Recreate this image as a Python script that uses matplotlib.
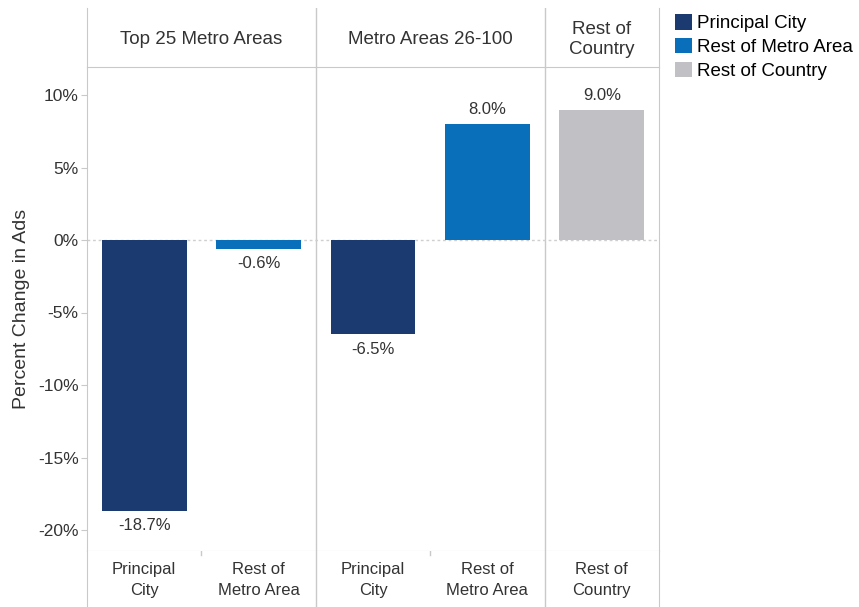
import matplotlib
matplotlib.use("Agg")
import matplotlib.pyplot as plt
from matplotlib.patches import Patch

plt.rcParams['font.family'] = ['Liberation Sans', 'DejaVu Sans']

panels = ["Top 25 Metro Areas", "Metro Areas 26-100", "Rest of\nCountry"]
panel_sizes = [2, 2, 1]
categories = ["Principal\nCity", "Rest of\nMetro Area", "Principal\nCity", "Rest of\nMetro Area", "Rest of\nCountry"]
series_idx = [0, 1, 0, 1, 2]
values = [-18.7, -0.6, -6.5, 8.0, 9.0]
series_names = ["Principal City", "Rest of Metro Area", "Rest of Country"]
colors = ["#1b3a70", "#0a6fba", "#c0c0c5"]
yticks = [10, 5, 0, -5, -10, -15, -20]

W, H = 859, 607
fig = plt.figure(figsize=(W / 100, H / 100), dpi=100)
L, R = 87, 659
top_hdr, hdr_bot, plot_bot = 8, 67, 551
fx = lambda px: px / W
fy = lambda py: 1 - py / H

ax = fig.add_axes([fx(L), fy(plot_bot), fx(R - L), fy(hdr_bot) - fy(plot_bot)])
axh = fig.add_axes([fx(L), fy(hdr_bot), fx(R - L), fy(top_hdr) - fy(hdr_bot)])
axb = fig.add_axes([fx(L), 0, fx(R - L), fy(plot_bot)])

n = len(categories)
x = list(range(n))
line_c = "#c9c9c9"
txt_c = "#333333"
for i, v in enumerate(values):
    ax.bar(x[i], v, width=0.74, color=colors[series_idx[i]], zorder=3)
    lbl = f"{v:.1f}%"
    if v >= 0:
        ax.text(x[i], v + 0.45, lbl, ha="center", va="bottom", fontsize=12, color=txt_c)
    else:
        ax.text(x[i], v - 0.5, lbl, ha="center", va="top", fontsize=12, color=txt_c)

ax.set_xlim(-0.5, n - 0.5)
ax.set_ylim(-(551 - 240) / 14.5, (240 - 67) / 14.5)
ax.axhline(0, color="#cfcfcf", lw=1, ls=(0, (2, 2)), zorder=1)
ax.set_yticks(yticks)
ax.set_yticklabels([f"{t}%" for t in yticks], fontsize=12.5, color=txt_c)
ax.tick_params(axis="y", length=4, color=line_c, pad=2)
ax.set_xticks([])
ax.set_ylabel("Percent Change in Ads", fontsize=14, color=txt_c, labelpad=6)

bounds = []
pos = 0
for s in panel_sizes:
    bounds.append((pos - 0.5, pos + s - 0.5))
    pos += s

for a in (ax, axh, axb):
    a.set_xlim(-0.5, n - 0.5)
    for sp in a.spines.values():
        sp.set_visible(False)
    a.spines["left"].set_visible(True)
    a.spines["left"].set_color(line_c)
    a.spines["right"].set_visible(True)
    a.spines["right"].set_color(line_c)
    for b in bounds[1:]:
        a.axvline(b[0], color=line_c, lw=1, zorder=0)
ax.spines["bottom"].set_visible(True)
ax.spines["bottom"].set_color(line_c)
axh.spines["bottom"].set_visible(True)
axh.spines["bottom"].set_color(line_c)

axh.set_ylim(0, 1)
axh.set_xticks([]); axh.set_yticks([])
for (b0, b1), name in zip(bounds, panels):
    axh.text((b0 + b1) / 2, 0.47, name, ha="center", va="center", fontsize=13.5,
             color=txt_c, linespacing=1.25)

axb.set_ylim(0, 1)
axb.set_xticks([]); axb.set_yticks([])
for i, c in enumerate(categories):
    axb.text(x[i], 0.48, c, ha="center", va="center", fontsize=12, color=txt_c, linespacing=1.45)
for b0, b1 in bounds:
    if b1 - b0 > 1:
        axb.plot([b0 + 1, b0 + 1], [1, 0.93], color=line_c, lw=1)

handles = [Patch(facecolor=c, edgecolor="none") for c in colors]
fig.legend(handles, series_names, loc="upper left", bbox_to_anchor=(fx(675), fy(14)),
           frameon=False, fontsize=13.5, handlelength=0.9, handleheight=0.9,
           handletextpad=0.27, labelspacing=0.3, borderaxespad=0, borderpad=0)

fig.savefig("out.png", dpi=100)
